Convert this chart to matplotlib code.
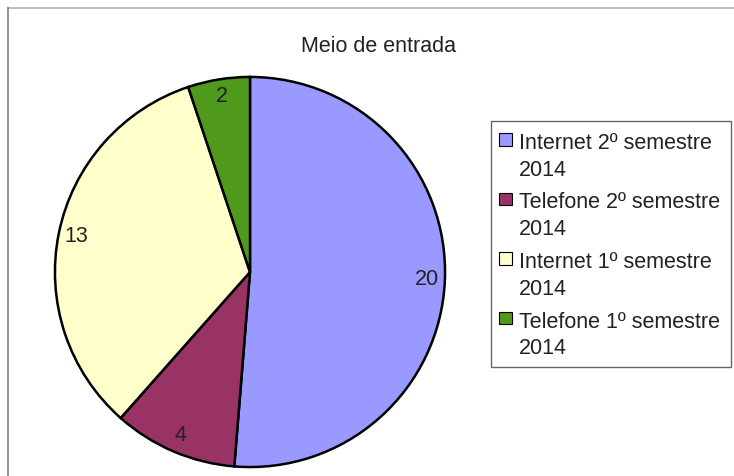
import matplotlib
matplotlib.use("Agg")
import matplotlib.pyplot as plt
from matplotlib.lines import Line2D
from matplotlib.patches import Rectangle
from matplotlib.transforms import Affine2D

plt.rcParams['font.family'] = ['Liberation Sans', 'DejaVu Sans']

series = ['Internet 2º semestre', 'Telefone 2º semestre',
          'Internet 1º semestre', 'Telefone 1º semestre']
year = '2014'
values = [20, 4, 13, 2]
colors = ['#9999ff', '#993366', '#ffffcc', '#4f9a1c']
title = 'Meio de entrada'

W, H = 734, 476
fig = plt.figure(figsize=(W / 100, H / 100), dpi=100)
px = Affine2D().scale(1, -1).translate(0, H)  # pixel coords, origin top-left

# outer frame (only top/left visible, chart is cropped)
fig.add_artist(Line2D([8, W], [8, 8], transform=px, color='#b3b3b3', lw=1.2))
fig.add_artist(Line2D([8, 8], [8, H], transform=px, color='#808080', lw=1.2))

# pie: centre (250, 272) px, radius 197 px
cx, cy, r = 250, 272, 197
ax = fig.add_axes([(cx - r) / W, (H - cy - r) / H, 2 * r / W, 2 * r / H])
wedges, texts = ax.pie(values, colors=colors, startangle=90, counterclock=False,
                       labels=[str(v) for v in values], labeldistance=0.91,
                       wedgeprops=dict(edgecolor='black', linewidth=1.8),
                       textprops=dict(fontsize=15.5, color='#222222'))
for t in texts:
    t.set_ha('center')
    t.set_va('center')
ax.set_xlim(-1.01, 1.01)
ax.set_ylim(-1.01, 1.01)
ax.set_aspect('auto')
ax.axis('off')

fig.text(378 / W, 1 - 46 / H, title, ha='center', va='center', fontsize=15.5, color='#222222')

# legend box drawn by hand so the swatch sits on the first text line
fig.add_artist(Rectangle((491, 121), 240, 246, transform=px, facecolor='white',
                         edgecolor='#666666', lw=1.0))
for i, (name, col) in enumerate(zip(series, colors)):
    y0 = 149 + 59.5 * i
    fig.add_artist(Rectangle((499, y0 - 16), 12.5, 12.5, transform=px,
                             facecolor=col, edgecolor='black', lw=0.8))
    fig.text(519, y0, name, transform=px, ha='left', va='baseline',
             fontsize=15.5, color='#222222')
    fig.text(519, y0 + 26.7, year, transform=px, ha='left', va='baseline',
             fontsize=15.5, color='#222222')

fig.savefig('out.png', dpi=100)
